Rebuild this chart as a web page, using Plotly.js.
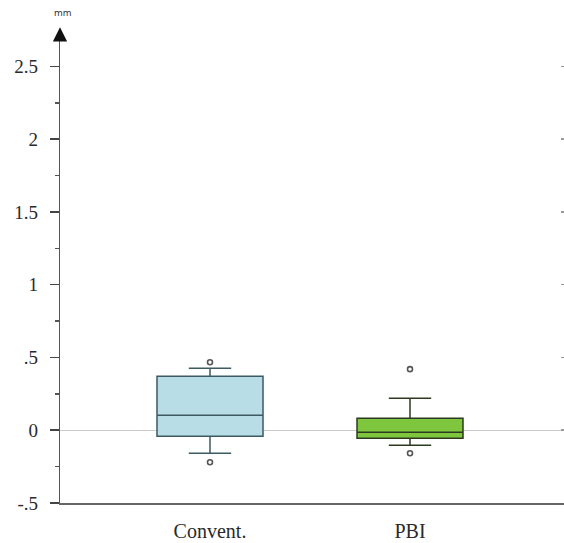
<!DOCTYPE html>
<html>
<head>
<meta charset="utf-8">
<script src="https://cdn.plot.ly/plotly-3.0.1.min.js"></script>
<style>html,body{margin:0;padding:0;background:#fff;}#chart{width:564px;height:543px;}</style>
</head>
<body>
<div id="chart"></div>
<script>
// Data (mm)
const categories = ["Convent.", "PBI"];
const q1 =          [-0.041, -0.055];
const median =      [0.103, -0.014];
const q3 =          [0.371, 0.082];
const lowerFence =  [-0.158, -0.103];
const upperFence =  [0.426, 0.220];
const outlierCats = ["Convent.", "Convent.", "PBI", "PBI"];
const outlierVals = [0.467, -0.220, 0.420, -0.158];
const tickVals = [-0.5, 0, 0.5, 1, 1.5, 2, 2.5];
const tickText = ["-.5", "0", ".5", "1", "1.5", "2", "2.5"];
const minorVals = [-0.25, 0.25, 0.75, 1.25, 1.75, 2.25];

const fills = ["#b9dde6", "#7ec63e"];
const lines = ["#3d5a63", "#2c3a20"];

const traces = categories.map((c, i) => ({
  type: "box",
  x: [c],
  q1: [q1[i]], median: [median[i]], q3: [q3[i]],
  lowerfence: [lowerFence[i]], upperfence: [upperFence[i]],
  fillcolor: fills[i],
  line: {color: lines[i], width: 1.5},
  width: 0.53,
  whiskerwidth: 0.4,
  boxpoints: false,
  hoverinfo: "skip",
  showlegend: false
}));
traces.push({
  type: "scatter", mode: "markers",
  x: outlierCats, y: outlierVals,
  marker: {symbol: "circle-open", size: 5, color: "#555", line: {width: 1.6, color: "#555"}},
  hoverinfo: "skip", showlegend: false
});
traces.push({type: "scatter", x: [categories[0]], y: [null], yaxis: "y2", hoverinfo: "skip", showlegend: false});
traces.push({type: "scatter", x: [categories[0]], y: [null], yaxis: "y3", hoverinfo: "skip", showlegend: false});

const yRange = [-0.5, 2.73];
const layout = {
  width: 564, height: 543,
  margin: {l: 60, r: 0, t: 33, b: 40},
  paper_bgcolor: "#fff", plot_bgcolor: "#fff",
  showlegend: false,
  xaxis: {
    type: "category",
    range: [-0.75, 1.77],
    showline: true, linecolor: "#666", linewidth: 1.5,
    showgrid: false, zeroline: false, ticks: "",
    ticklabelstandoff: 9,
    tickfont: {family: "Liberation Serif", size: 20, color: "#2a2a2a"},
    fixedrange: true
  },
  yaxis: {
    range: yRange,
    showline: true, linecolor: "#555", linewidth: 1.5,
    showgrid: false,
    zeroline: true, zerolinecolor: "#cccccc", zerolinewidth: 1,
    tickmode: "array", tickvals: tickVals,
    ticks: "outside", ticklen: 9, tickcolor: "#444", tickwidth: 1.5,
    showticklabels: false,
    minor: {tickmode: "array", tickvals: minorVals, ticks: "outside", ticklen: 4, tickcolor: "#555", tickwidth: 1.5},
    fixedrange: true
  },
  yaxis2: {
    overlaying: "y", side: "right", anchor: "x",
    range: yRange,
    showline: false, showgrid: false, zeroline: false,
    tickmode: "array", tickvals: tickVals,
    ticks: "inside", ticklen: 3, tickcolor: "#999", tickwidth: 1.5,
    showticklabels: false, fixedrange: true
  },
  yaxis3: {
    overlaying: "y", side: "left", anchor: "x",
    range: yRange,
    showline: false, showgrid: false, zeroline: false,
    tickmode: "array", tickvals: tickVals, ticktext: tickText,
    ticks: "", ticklabelstandoff: 21,
    tickfont: {family: "Liberation Serif", size: 19, color: "#2a2a2a"},
    fixedrange: true
  },
  annotations: [
    {xref: "paper", yref: "paper", x: 0, y: 1.012, text: "", showarrow: true,
     ax: 0, ay: 14, arrowhead: 2, arrowsize: 1.9, arrowwidth: 1.5, arrowcolor: "#111"},
    {xref: "paper", yref: "paper", x: 0.005, y: 1.0, yshift: 20, xanchor: "center", yanchor: "middle",
     text: "mm", showarrow: false, font: {family: "DejaVu Sans", size: 9, color: "#333"}}
  ]
};
Plotly.newPlot("chart", traces, layout, {staticPlot: true, displayModeBar: false});
</script>
</body>
</html>
